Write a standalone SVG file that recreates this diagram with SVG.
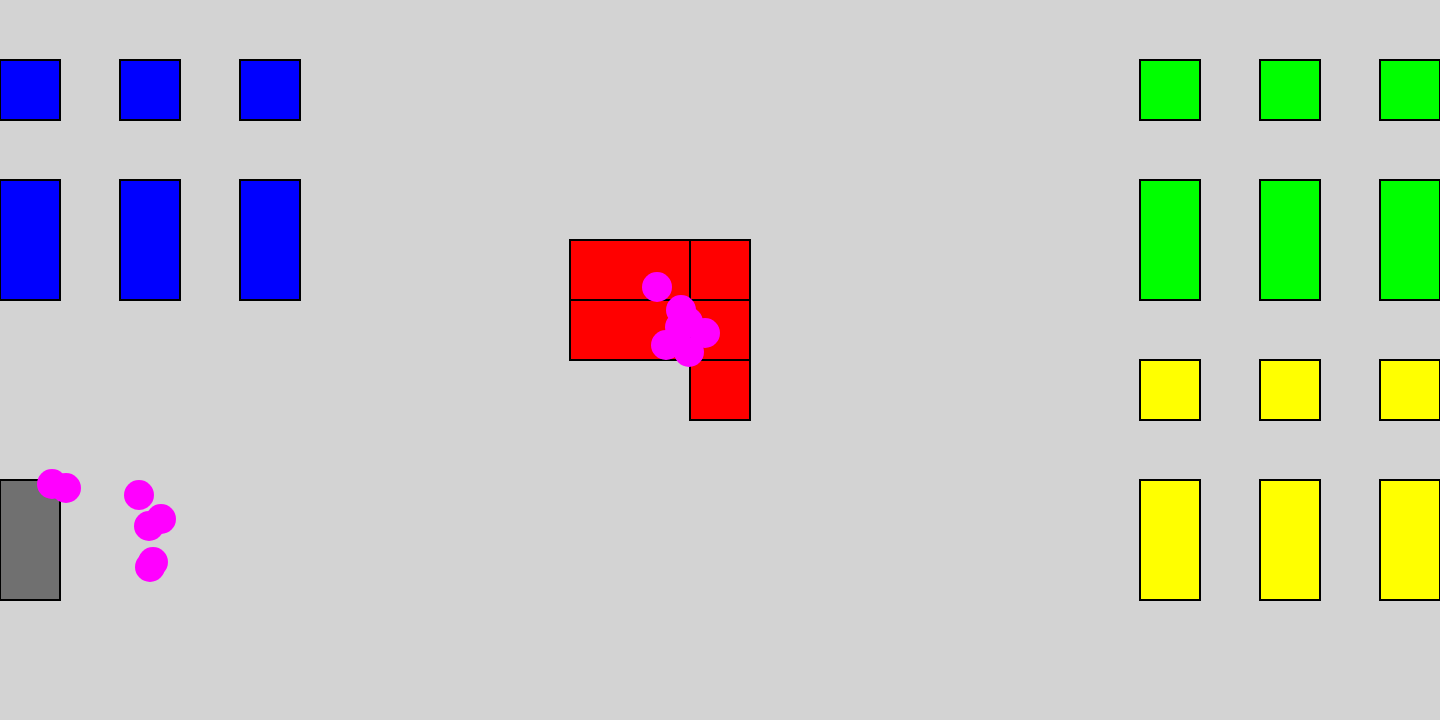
<svg xmlns="http://www.w3.org/2000/svg" width="1440" height="720" viewBox="0 0 1440 720">
<style>
rect.o{stroke:#000;stroke-width:2}
.b{fill:#0000ff}.g{fill:#00ff00}.y{fill:#ffff00}.r{fill:#ff0000}.k{fill:#707070}
circle{fill:#ff00ff}
</style>
<rect x="0" y="0" width="1440" height="720" fill="#d3d3d3"/>
<g id="blue">
<rect class="o b" x="0" y="60" width="60" height="60"/>
<rect class="o b" x="120" y="60" width="60" height="60"/>
<rect class="o b" x="240" y="60" width="60" height="60"/>
<rect class="o b" x="0" y="180" width="60" height="120"/>
<rect class="o b" x="120" y="180" width="60" height="120"/>
<rect class="o b" x="240" y="180" width="60" height="120"/>
</g>
<g id="green">
<rect class="o g" x="1140" y="60" width="60" height="60"/>
<rect class="o g" x="1260" y="60" width="60" height="60"/>
<rect class="o g" x="1380" y="60" width="60" height="60"/>
<rect class="o g" x="1140" y="180" width="60" height="120"/>
<rect class="o g" x="1260" y="180" width="60" height="120"/>
<rect class="o g" x="1380" y="180" width="60" height="120"/>
</g>
<g id="yellow">
<rect class="o y" x="1140" y="360" width="60" height="60"/>
<rect class="o y" x="1260" y="360" width="60" height="60"/>
<rect class="o y" x="1380" y="360" width="60" height="60"/>
<rect class="o y" x="1140" y="480" width="60" height="120"/>
<rect class="o y" x="1260" y="480" width="60" height="120"/>
<rect class="o y" x="1380" y="480" width="60" height="120"/>
</g>
<g id="red">
<rect class="o r" x="570" y="240" width="120" height="60"/>
<rect class="o r" x="690" y="240" width="60" height="60"/>
<rect class="o r" x="570" y="300" width="120" height="60"/>
<rect class="o r" x="690" y="300" width="60" height="60"/>
<rect class="o r" x="690" y="360" width="60" height="60"/>
</g>
<g id="gray">
<rect class="o k" x="0" y="480" width="60" height="120"/>
</g>
<g id="dots">
<circle cx="657" cy="287" r="15"/>
<circle cx="681" cy="310" r="15"/>
<circle cx="688" cy="322" r="15"/>
<circle cx="680" cy="327" r="15"/>
<circle cx="705" cy="333" r="15"/>
<circle cx="666" cy="345" r="15"/>
<circle cx="689" cy="352" r="15"/>
<circle cx="52" cy="484" r="15"/>
<circle cx="66" cy="488" r="15"/>
<circle cx="139" cy="495" r="15"/>
<circle cx="161" cy="519" r="15"/>
<circle cx="149" cy="526" r="15"/>
<circle cx="153" cy="562" r="15"/>
<circle cx="150" cy="567" r="15"/>
</g>
</svg>
